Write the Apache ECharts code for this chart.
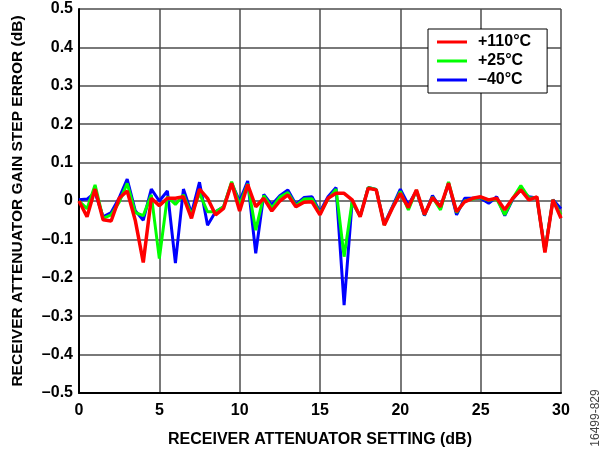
<!DOCTYPE html>
<html>
<head>
<meta charset="utf-8">
<script src="https://cdn.jsdelivr.net/npm/echarts@6/dist/echarts.min.js"></script>
<style>
  html, body { margin: 0; padding: 0; background: #fff; }
  #chart { width: 608px; height: 454px; }
</style>
</head>
<body>
<div id="chart"></div>
<script>
// attenuator setting (dB), 0.5 dB steps
const settings = [
  0, 0.5, 1, 1.5, 2, 2.5, 3, 3.5, 4, 4.5, 5, 5.5, 6, 6.5, 7, 7.5, 8, 8.5, 9, 9.5,
  10, 10.5, 11, 11.5, 12, 12.5, 13, 13.5, 14, 14.5, 15, 15.5, 16, 16.5, 17, 17.5,
  18, 18.5, 19, 19.5, 20, 20.5, 21, 21.5, 22, 22.5, 23, 23.5, 24, 24.5, 25, 25.5,
  26, 26.5, 27, 27.5, 28, 28.5, 29, 29.5, 30
]

// gain step error (dB)
const err110 = [
  0, -0.041, 0.031, -0.049, -0.052, 0.007, 0.026, -0.05, -0.16, 0.007,
  -0.012, 0.007, 0.007, 0.011, -0.045, 0.031, 0.007, -0.036, -0.019, 0.046,
  -0.026, 0.043, -0.015, 0.007, -0.026, 0, 0.016, -0.015, -0.003, -0.002,
  -0.036, 0.007, 0.02, 0.02, 0.003, -0.041, 0.033, 0.029, -0.063, -0.019,
  0.02, -0.017, 0.029, -0.035, 0.009, -0.015, 0.046, -0.028, -0.002, 0.007,
  0.011, 0.003, 0.007, -0.023, 0.007, 0.029, 0.003, 0.011, -0.134, 0.003,
  -0.045
]
const err25 = [
  0, -0.02, 0.042, -0.045, -0.036, -0.003, 0.046, -0.03, -0.038, 0.016,
  -0.15, 0.011, -0.009, 0.016, -0.036, 0.02, -0.028, -0.028, -0.015, 0.05,
  -0.01, 0.045, -0.076, 0.014, -0.018, 0.01, 0.022, -0.012, 0.005, 0.006,
  -0.032, 0.005, 0.031, -0.145, -0.002, -0.04, 0.035, 0.03, -0.062, -0.018,
  0.025, -0.023, 0.028, -0.036, 0.01, -0.023, 0.05, -0.03, 0, 0.005,
  0.009, 0.002, 0.005, -0.036, 0.007, 0.04, 0.008, 0.008, -0.13, 0.003,
  -0.036
]
const errM40 = [
  0.003, 0.005, 0.022, -0.041, -0.03, 0.008, 0.057, -0.025, -0.05, 0.031,
  0, 0.026, -0.162, 0.031, -0.032, 0.049, -0.063, -0.028, -0.015, 0.046,
  0, 0.052, -0.136, 0.017, -0.01, 0.014, 0.029, -0.009, 0.009, 0.011,
  -0.028, 0.011, 0.035, -0.271, -0.002, -0.04, 0.035, 0.03, -0.06, -0.015,
  0.031, -0.01, 0.026, -0.038, 0.014, -0.019, 0.046, -0.036, 0.007, 0.007,
  0.007, -0.006, 0.011, -0.038, 0.005, 0.03, 0.011, 0.008, -0.13, 0.003,
  -0.02
]

const labelFont = { fontFamily: 'Liberation Sans, Arial, sans-serif', fontWeight: 'bold', fontSize: 16, color: '#000' }

function pairs(ys) {
  return settings.map((x, i) => [x, ys[i]])
}

const chart = echarts.init(document.getElementById('chart'), null, { renderer: 'canvas' })

chart.setOption({
  animation: false,
  backgroundColor: '#fff',
  grid: { left: 79, right: 47, top: 9, bottom: 61 },
  legend: {
    orient: 'vertical',
    left: 428,
    top: 29,
    padding: [5, 16, 5, 9],
    itemGap: 3,
    itemWidth: 30,
    itemHeight: 3,
    icon: 'rect',
    backgroundColor: '#fff',
    borderColor: '#000',
    borderWidth: 1,
    textStyle: Object.assign({ padding: [0, 0, 0, 6] }, labelFont),
    data: ['+110°C', '+25°C', '–40°C']
  },
  xAxis: {
    type: 'value',
    min: 0,
    max: 30,
    interval: 5,
    name: 'RECEIVER ATTENUATOR SETTING (dB)',
    nameLocation: 'middle',
    nameGap: 39,
    nameTextStyle: labelFont,
    axisLine: { onZero: false, lineStyle: { color: '#000', width: 2 } },
    axisTick: { show: false },
    axisLabel: Object.assign({ margin: 10 }, labelFont),
    splitLine: { lineStyle: { color: '#4d4d4d', width: 1.5 } }
  },
  yAxis: {
    type: 'value',
    min: -0.5,
    max: 0.5,
    interval: 0.1,
    name: 'RECEIVER ATTENUATOR GAIN STEP ERROR (dB)',
    nameLocation: 'middle',
    nameGap: 53,
    nameTextStyle: Object.assign({}, labelFont, { fontSize: 15.5 }),
    axisLine: { onZero: false, lineStyle: { color: '#000', width: 2 } },
    axisTick: { show: false },
    axisLabel: Object.assign({
      margin: 6,
      formatter: v => Math.abs(v) < 1e-9 ? '0' : v.toFixed(1).replace('-', '–')
    }, labelFont),
    splitLine: { lineStyle: { color: '#4d4d4d', width: 1.5 } }
  },
  series: [
    {
      name: '–40°C',
      type: 'line',
      data: pairs(errM40),
      showSymbol: false,
      color: '#0000ff',
      lineStyle: { width: 3 }
    },
    {
      name: '+25°C',
      type: 'line',
      data: pairs(err25),
      showSymbol: false,
      color: '#00ff00',
      lineStyle: { width: 3 }
    },
    {
      name: '+110°C',
      type: 'line',
      data: pairs(err110),
      showSymbol: false,
      color: '#ff0000',
      lineStyle: { width: 3.5 }
    }
  ],
  graphic: [
    {
      type: 'text',
      x: 596,
      y: 418,
      rotation: Math.PI / 2,
      style: {
        text: '16499-829',
        fontFamily: 'Liberation Sans, Arial, sans-serif',
        fontSize: 12,
        fill: '#444',
        align: 'center',
        verticalAlign: 'middle'
      }
    }
  ]
})
</script>
</body>
</html>
